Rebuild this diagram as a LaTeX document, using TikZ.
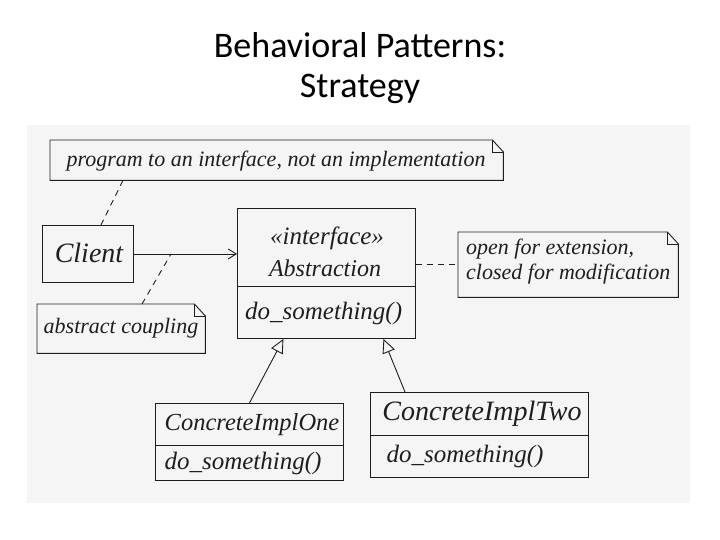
\documentclass[tikz,border=0pt]{standalone}
\usepackage{fontspec}
\setmainfont{Carlito}
\newfontfamily\handfont{Liberation Serif}
\usetikzlibrary{arrows.meta,calc}
\definecolor{scanbg}{HTML}{F5F5F5}
\definecolor{ink}{HTML}{1E1E1E}
\tikzset{
  hand/.style={font=\handfont\itshape\fontsize{22}{24}\selectfont, text=ink, inner sep=0pt},
  boxpart/.style={draw=ink, line width=0.9pt, inner sep=2pt, anchor=north west},
  notebody/.style={inner sep=2pt, anchor=north west},
  dashline/.style={draw=ink, line width=0.9pt, dash pattern=on 6pt off 5pt},
  assoc/.style={draw=ink, line width=0.9pt, -{Straight Barb[length=8pt,width=10pt]}},
  inherit/.style={draw=ink, line width=0.9pt, -{Triangle[open,length=14pt,width=13pt,fill=scanbg]}},
}
\newcommand{\notepath}[1]{%
  \draw[ink, line width=0.9pt] (#1.north west) -- ($(#1.north east)+(-11,0)$) -- ($(#1.north east)+(0,12)$) -- (#1.south east) -- (#1.south west) -- cycle;
  \draw[ink, line width=0.9pt] ($(#1.north east)+(-11,0)$) -- ($(#1.north east)+(-11,12)$) -- ($(#1.north east)+(0,12)$);}
\begin{document}
\begin{tikzpicture}[x=1pt,y=-1pt]
\useasboundingbox (0,0) rectangle (720,540);
\fill[white] (0,0) rectangle (720,540);
% title
\node[font=\fontsize{36}{40}\selectfont, align=center] (title) at (360,68) {Behavioral Patterns:\\Strategy};
% scanned area
\fill[scanbg] (27,125) rectangle (690,503);
% note: program to an interface
\node[notebody, minimum width=453pt, minimum height=40pt] (note1) at (50,140) {};
\node[hand] (note1t) at (276,161) {program to an interface, not an implementation};
\notepath{note1}
% client
\node[boxpart, minimum width=91pt, minimum height=57pt] (client) at (42,225) {};
\node[hand, font=\handfont\itshape\fontsize{28}{30}\selectfont] (clientt) at (89,253) {Client};
% abstraction
\node[boxpart, minimum width=178pt, minimum height=78pt] (abs) at (237,208) {};
\node[hand, font=\handfont\itshape\fontsize{25}{27}\selectfont] (abst1) at (327,238) {«interface»};
\node[hand, font=\handfont\itshape\fontsize{24}{26}\selectfont] (abst2) at (325,268) {Abstraction};
\node[boxpart, minimum width=178pt, minimum height=52pt] (absops) at (237,286) {};
\node[hand, font=\handfont\itshape\fontsize{25}{27}\selectfont, anchor=west] (absopst) at (245,313) {do\_something()};
% note: open for extension
\node[notebody, minimum width=220pt, minimum height=65pt] (note2) at (458,232) {};
\node[hand, align=left, anchor=west, font=\handfont\itshape\fontsize{22}{25}\selectfont] (note2t) at (466,262) {open for extension,\\closed for modification};
\notepath{note2}
% note: abstract coupling
\node[notebody, minimum width=168pt, minimum height=49pt] (note3) at (37,304) {};
\node[hand] (note3t) at (121,328) {abstract coupling};
\notepath{note3}
% concrete impl one
\node[boxpart, minimum width=188pt, minimum height=42pt] (one) at (155,403) {};
\node[hand, font=\handfont\itshape\fontsize{24.5}{26}\selectfont] (onet) at (252,425) {ConcreteImplOne};
\node[boxpart, minimum width=188pt, minimum height=35pt] (oneops) at (155,445) {};
\node[hand, font=\handfont\itshape\fontsize{25}{27}\selectfont] (oneopst) at (243,463) {do\_something()};
% concrete impl two
\node[boxpart, minimum width=218pt, minimum height=43pt] (two) at (370,392) {};
\node[hand, font=\handfont\itshape\fontsize{28}{30}\selectfont] (twot) at (482,414) {ConcreteImplTwo};
\node[boxpart, minimum width=218pt, minimum height=42pt] (twoops) at (370,435) {};
\node[hand, font=\handfont\itshape\fontsize{25}{27}\selectfont] (twoopst) at (465,456) {do\_something()};
% connectors
\draw[assoc] (client.east) -- coordinate[pos=0.36] (assocpt) (client.east -| abs.west);
\draw[dashline] ($(note1.south west)+(73,0)$) -- ($(client.north)+(13,0)$);
\draw[dashline] ($(note3.north west)+(105,0)$) -- (assocpt);
\draw[dashline] (abs.east |- note2.west) -- (note2.west);
\draw[inherit] (one.north) -- ($(absops.south)+(-43,0)$);
\draw[inherit] ($(two.north west)+(35,0)$) -- ($(absops.south)+(57,0)$);
\end{tikzpicture}
\end{document}
